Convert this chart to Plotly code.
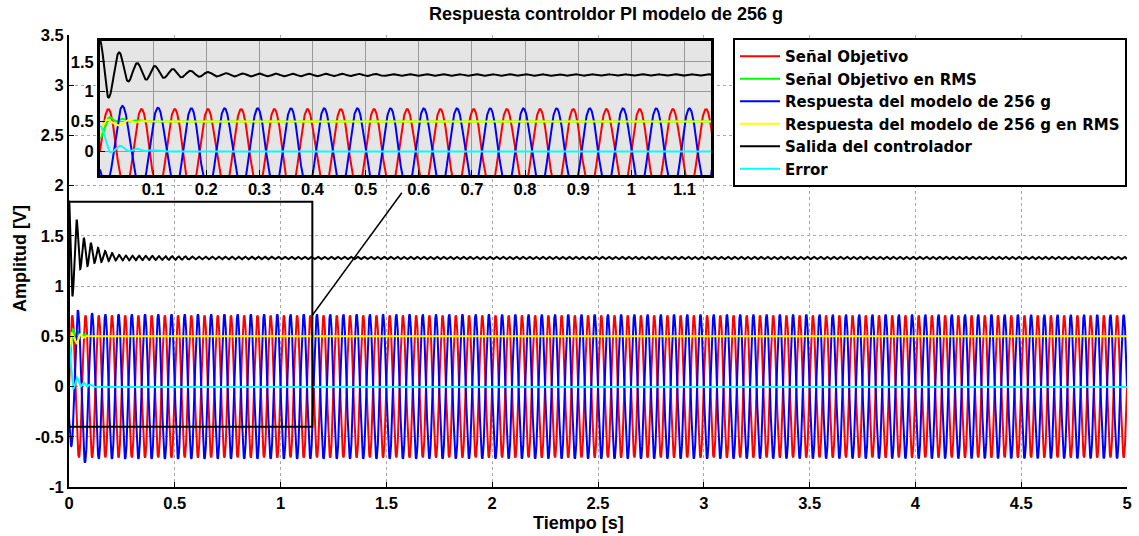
import numpy as np
import plotly.graph_objects as go

# ---------------- values ----------------
t_end = 5.0
sample_rate = 2000.0
signal_freq = 16.0            # Hz, carrier of target / model response
ripple_freq = 32.0            # Hz, ripple of controller output
target_amp = 0.707

# model response (blue): amplitude envelope and phase lag (cycles)
model_amp_t = [0.0, 0.012, 0.041, 0.072, 0.12, 5.0]
model_amp_v = [0.55, 0.60, 0.76, 0.76, 0.72, 0.715]
model_lag_t = [0.0, 0.041, 0.11, 5.0]
model_lag_v = [0.406, 0.42, 0.50, 0.50]

# RMS of target (green)
target_rms_t = [0.0, 0.018, 0.030, 0.042, 0.056, 0.072, 0.09, 5.0]
target_rms_v = [0.22, 0.57, 0.50, 0.545, 0.50, 0.52, 0.50, 0.50]

# RMS of model response (yellow)
model_rms_t = [0.0, 0.012, 0.036, 0.052, 0.066, 0.082, 0.10, 5.0]
model_rms_v = [0.30, 0.53, 0.43, 0.52, 0.485, 0.505, 0.50, 0.50]

# error (cyan)
error_t = [0.0, 0.02, 0.038, 0.055, 0.07, 0.085, 0.10, 0.12, 5.0]
error_v = [0.42, -0.02, 0.09, 0.0, 0.04, 0.0, 0.02, -0.005, -0.005]

# controller output (black): extrema of the start-up transient
ctrl_ext_t = [0.0, 0.016, 0.036, 0.053, 0.070, 0.087, 0.103, 0.120, 0.137,
              0.153, 0.170, 0.187, 0.203, 0.220, 0.237, 0.253]
ctrl_ext_v = [1.85, 0.90, 1.66, 1.17, 1.48, 1.20, 1.43, 1.23, 1.38,
              1.24, 1.35, 1.25, 1.33, 1.255, 1.31, 1.255]
ctrl_level = 1.28
ctrl_ripple_t = [0.253, 0.4, 0.6, 1.0, 5.0]
ctrl_ripple_v = [0.025, 0.02, 0.015, 0.013, 0.013]

# zoom window shown in the inset
zoom_x = [0.0, 1.15]
zoom_y = [-0.4, 1.84]

main_xticks = [0, 0.5, 1, 1.5, 2, 2.5, 3, 3.5, 4, 4.5, 5]
main_xtext = ["0", "0.5", "1", "1.5", "2", "2.5", "3", "3.5", "4", "4.5", "5"]
main_yticks = [-1, -0.5, 0, 0.5, 1, 1.5, 2, 2.5, 3, 3.5]
main_ytext = ["-1", "-0.5", "0", "0.5", "1", "1.5", "2", "2.5", "3", "3.5"]
inset_xticks = [0.1, 0.2, 0.3, 0.4, 0.5, 0.6, 0.7, 0.8, 0.9, 1.0, 1.1]
inset_xtext = ["0.1", "0.2", "0.3", "0.4", "0.5", "0.6", "0.7", "0.8", "0.9", "1", "1.1"]
inset_yticks = [0, 0.5, 1, 1.5]
inset_ytext = ["0", "0.5", "1", "1.5"]

names = ["Señal Objetivo", "Señal Objetivo en RMS", "Respuesta del modelo de 256 g",
         "Respuesta del modelo de 256 g en RMS", "Salida del controlador", "Error"]
colors = ["#ff0000", "#00ff00", "#0000ff", "#ffff00", "#000000", "#00ffff"]

title_text = "Respuesta controldor PI modelo de 256 g"
xlabel = "Tiempo [s]"
ylabel = "Amplitud [V]"


# ---------------- build the series ----------------
def smooth_interp(t, kt, kv):
    kt = np.asarray(kt, float)
    kv = np.asarray(kv, float)
    idx = np.clip(np.searchsorted(kt, t, side="right") - 1, 0, len(kt) - 2)
    t0, t1 = kt[idx], kt[idx + 1]
    s = np.clip((t - t0) / (t1 - t0), 0, 1)
    w = (1 - np.cos(np.pi * s)) / 2
    return kv[idx] + (kv[idx + 1] - kv[idx]) * w


t = np.arange(0, t_end + 1e-9, 1.0 / sample_rate)
w0 = 2 * np.pi * signal_freq

target = target_amp * np.sin(w0 * t)
amp = np.interp(t, model_amp_t, model_amp_v)
lag = np.interp(t, model_lag_t, model_lag_v)
model = amp * np.sin(w0 * t - 2 * np.pi * lag)
target_rms = smooth_interp(t, target_rms_t, target_rms_v)
model_rms = smooth_interp(t, model_rms_t, model_rms_v)
error = smooth_interp(t, error_t, error_v)

t_last = ctrl_ext_t[-1]
ripple = np.interp(t, ctrl_ripple_t, ctrl_ripple_v)
ctrl_tail = ctrl_level + ripple * np.cos(2 * np.pi * ripple_freq * (t - t_last) + np.pi)
ctrl = np.where(t <= t_last, smooth_interp(t, ctrl_ext_t, ctrl_ext_v), ctrl_tail)

series = [target, target_rms, model, model_rms, ctrl, error]

fig = go.Figure()
for name, col, y in zip(names, colors, series):
    fig.add_trace(go.Scatter(x=t, y=y, mode="lines", name=name,
                             line=dict(color=col, width=2),
                             xaxis="x", yaxis="y", hoverinfo="skip"))
mask = t <= zoom_x[1] + 0.01
for name, col, y in zip(names, colors, series):
    fig.add_trace(go.Scatter(x=t[mask], y=y[mask], mode="lines", name=name,
                             line=dict(color=col, width=2), showlegend=False,
                             xaxis="x2", yaxis="y2", hoverinfo="skip"))

# ---------------- layout ----------------
W, H = 1139, 536
ml, mr, mt, mb = 69, 12, 35, 49
pw, ph = W - ml - mr, H - mt - mb
FONT = "Liberation Sans, Arial, Helvetica, sans-serif"
LFONT = "DejaVu Sans, Liberation Sans, sans-serif"

def px_x(px):
    return (px - ml) / pw

def px_y(py):
    return (H - mb - py) / ph

tickfont = dict(family=FONT, size=16.5, color="black", weight="bold")
labfont = dict(family=FONT, size=18, color="black", weight="bold")

fig.update_layout(
    width=W, height=H,
    margin=dict(l=ml, r=mr, t=mt, b=mb, autoexpand=False),
    paper_bgcolor="white",
    plot_bgcolor="#e5e5e5",
    font=dict(family=FONT, color="black"),
    title=dict(text=title_text, x=px_x(606), xref="paper", xanchor="center",
               y=1 - 14 / H, yref="container", yanchor="middle",
               font=dict(family=FONT, size=18, color="black", weight="bold")),
    showlegend=True,
    legend=dict(x=1, xanchor="right", y=px_y(38), yanchor="top",
                bgcolor="white", bordercolor="black", borderwidth=2,
                font=dict(family=LFONT, size=15, color="black", weight="bold"),
                tracegroupgap=0, itemwidth=40),
    xaxis=dict(domain=[0, 1], range=[0, t_end], tickvals=main_xticks, ticktext=main_xtext,
               ticks="inside", ticklen=5, tickcolor="black", tickwidth=1,
               showline=True, linecolor="black", linewidth=2,
               showgrid=True, gridcolor="#a8a8a8", gridwidth=1, griddash="dot",
               zeroline=False, tickfont=tickfont),
    yaxis=dict(domain=[0, 1], range=[-1, 3.5], tickvals=main_yticks, ticktext=main_ytext,
               ticks="inside", ticklen=5, tickcolor="black", tickwidth=1,
               showline=True, linecolor="black", linewidth=2,
               showgrid=True, gridcolor="#a8a8a8", gridwidth=1, griddash="dot",
               zeroline=False, tickfont=tickfont),
    xaxis2=dict(domain=[px_x(100), px_x(711)], anchor="y2", range=zoom_x,
                tickvals=inset_xticks, ticktext=inset_xtext,
                ticks="inside", ticklen=5, tickcolor="black",
                showline=True, mirror=True, linecolor="black", linewidth=3,
                showgrid=True, gridcolor="#9a9a9a", gridwidth=1,
                zeroline=False, tickfont=tickfont, ticklabelstandoff=-3),
    yaxis2=dict(domain=[px_y(175), px_y(41)], anchor="x2", range=[-0.4, 1.85],
                tickvals=inset_yticks, ticktext=inset_ytext,
                ticks="inside", ticklen=5, tickcolor="black",
                showline=True, mirror=True, linecolor="black", linewidth=3,
                showgrid=True, gridcolor="#9a9a9a", gridwidth=1,
                zeroline=False, tickfont=tickfont),
    annotations=[
        dict(text=xlabel, xref="paper", yref="paper", x=px_x(578), y=px_y(523),
             xanchor="center", yanchor="middle", showarrow=False, font=labfont),
        dict(text=ylabel, xref="paper", yref="paper", x=px_x(20), y=px_y(259),
             xanchor="center", yanchor="middle", showarrow=False, textangle=-90,
             font=labfont),
    ],
    shapes=[
        dict(type="rect", xref="x", yref="y", x0=0, x1=t_end, y0=-1, y1=3.5,
             fillcolor="white", line=dict(width=0), layer="below"),
        dict(type="rect", xref="x", yref="y", x0=zoom_x[0], x1=zoom_x[1],
             y0=zoom_y[0], y1=zoom_y[1], line=dict(color="black", width=2),
             fillcolor="rgba(0,0,0,0)", layer="above"),
        dict(type="line", xref="x", yref="y", x0=zoom_x[1], y0=0.71, x1=1.573, y1=1.93,
             line=dict(color="black", width=1.5), layer="above"),
    ],
)

fig.write_html("out.html")
